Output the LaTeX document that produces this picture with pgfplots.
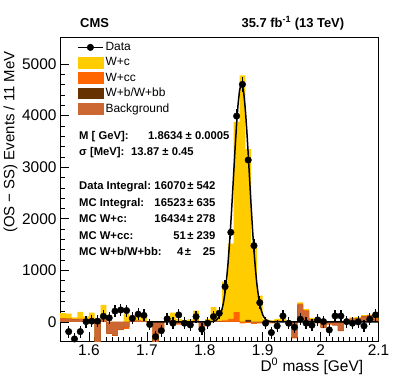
\documentclass[border=0pt]{standalone}
\usepackage{fontspec}
\setmainfont{Liberation Sans}
\usepackage{pgfplots}
\usepackage{pgfplotstable}
\pgfplotsset{compat=1.18}
\definecolor{wc}{RGB}{255,204,0}
\definecolor{wcc}{RGB}{255,102,0}
\definecolor{wb}{RGB}{102,51,0}
\definecolor{bkg}{RGB}{204,102,51}

\pgfplotstableread{
x s1 s2 s3 s4
1.55 60 60 75 170
1.56 60 60 70 160
1.57 50 50 60 90
1.58 55 55 65 195
1.59 45 45 55 110
1.60 50 50 60 180
1.61 -450 -450 -450 -420
1.62 60 60 70 330
1.63 -220 -220 -230 -160
1.64 -260 -260 -270 -200
1.65 -150 -150 -160 -100
1.66 -100 -100 -135 155
1.67 10 10 20 60
1.68 20 20 30 168
1.69 10 10 15 80
1.70 -20 -20 -30 20
1.71 -450 -450 -450 -420
1.72 -180 -180 -190 -150
1.73 0 0 10 90
1.74 30 30 40 180
1.75 -40 -40 -50 60
1.76 -50 -50 -60 40
1.77 -30 -30 -40 50
1.78 20 20 30 220
1.79 -150 -150 -160 -80
1.80 -20 -20 -30 60
1.81 10 10 20 285
1.82 10 10 20 230
1.83 0 0 30 780
1.84 0 0 60 1520
1.85 0 0 190 3880
1.86 0 0 -30 4780
1.87 0 40 -20 3350
1.88 -20 -20 -40 1460
1.89 -10 -10 -30 510
1.90 10 10 0 60
1.91 -20 -20 -30 30
1.92 20 20 25 60
1.93 10 10 20 80
1.94 -60 -60 -70 -40
1.95 -300 -300 -320 -290
1.96 330 330 355 380
1.97 215 215 225 250
1.98 40 40 50 80
1.99 -20 -20 -30 20
2.00 -110 -110 -120 -90
2.01 -40 -40 -50 -20
2.02 -60 -60 -70 -40
2.03 -170 -170 -180 -150
2.04 -20 -20 -30 10
2.05 60 60 70 90
2.06 70 70 75 100
2.07 110 110 115 130
2.08 120 120 125 140
2.09 60 60 70 90
2.10 0 0 0 0
}\hist

\pgfplotstableread{
x y e
1.565 -188 115
1.575 -330 115
1.585 -188 115
1.595 6 115
1.605 15 115
1.615 15 115
1.625 110 115
1.635 78 115
1.645 210 115
1.655 232 115
1.665 220 115
1.675 70 115
1.685 150 115
1.695 127 115
1.705 -50 115
1.715 -285 115
1.725 -170 115
1.735 60 115
1.745 -25 115
1.755 136 115
1.765 -25 115
1.775 -58 115
1.785 103 115
1.795 -142 115
1.805 -25 115
1.815 103 115
1.825 168 115
1.835 684 120
1.845 1738 130
1.855 3992 140
1.865 4607 145
1.875 3140 135
1.885 1479 125
1.895 374 120
1.905 -25 115
1.915 -207 115
1.925 -78 115
1.935 116 115
1.945 -25 115
1.955 -103 115
1.965 52 115
1.975 -25 115
1.985 -64 115
1.995 39 115
2.005 6 115
2.015 -155 115
2.025 116 115
2.035 116 115
2.045 6 115
2.055 -25 115
2.065 0 115
2.075 -78 115
2.085 52 115
2.095 136 115
}\data

\pgfplotstableread{
x y
1.700 0
1.800 0.1
1.810 3
1.815 10.5
1.820 35
1.825 100
1.8275 162
1.830 255
1.8325 386
1.835 568
1.8375 808
1.840 1114
1.8425 1485
1.845 1917
1.8475 2396
1.850 2898
1.8525 3394
1.855 3847
1.8575 4222
1.860 4485
1.8625 4613
1.8634 4622
1.865 4591
1.8675 4424
1.870 4127
1.8725 3727
1.875 3258
1.8775 2757
1.880 2258
1.8825 1791
1.885 1375
1.8875 1021
1.890 735
1.8925 512
1.895 345
1.8975 225
1.900 142
1.9025 87
1.905 51
1.9075 29.5
1.910 16
1.915 4.6
1.920 1
1.930 0
2.100 0
}\fit

\begin{document}
\begin{tikzpicture}
\begin{axis}[
  width=318.5bp, height=303.7bp, scale only axis,
  xmin=1.55, xmax=2.1, ymin=-370, ymax=5520,
  xtick={1.6,1.7,1.8,1.9,2,2.1},
  ytick={0,1000,2000,3000,4000,5000},
  minor x tick num=9, minor y tick num=4,
  tick align=inside, xtick pos=left, ytick pos=left,
  major tick length=9bp, minor tick length=4.5bp,
  tick style={black, line width=0.6bp},
  axis line style={line width=0.6bp},
  /pgf/number format/assume math mode=true,
  /pgf/number format/1000 sep={},
  scaled y ticks=false,
  ticklabel style={font=\fontsize{15.5}{15.5}\selectfont},
  legend style={draw=none, fill=none, at={(0.0534,0.99)}, anchor=north west,
    font=\fontsize{12}{14}\selectfont, inner sep=0pt, row sep=1.5pt,
    cells={anchor=west}},
  legend cell align=left,
]
\addlegendimage{legend image code/.code={\draw[black,line width=1.5pt] (0pt,0pt)--(25pt,0pt); \fill[black] (12.5pt,0pt) circle (3.3pt);}}
\addlegendentry{Data}
\addlegendimage{legend image code/.code={\fill[wc] (0pt,-5.5pt) rectangle (25pt,5.5pt);}}
\addlegendentry{W+c}
\addlegendimage{legend image code/.code={\fill[wcc] (0pt,-5.5pt) rectangle (25pt,5.5pt);}}
\addlegendentry{W+cc}
\addlegendimage{legend image code/.code={\fill[wb] (0pt,-5.5pt) rectangle (25pt,5.5pt);}}
\addlegendentry{W+b/W+bb}
\addlegendimage{legend image code/.code={\fill[bkg] (0pt,-5.5pt) rectangle (25pt,5.5pt);}}
\addlegendentry{Background}

\addplot[ybar interval, fill=wc, draw=none, forget plot] table[x=x, y=s4] {\hist};
\addplot[ybar interval, fill=wcc, draw=none, forget plot] table[x=x, y=s3] {\hist};
\addplot[ybar interval, fill=wb, draw=none, forget plot] table[x=x, y=s2] {\hist};
\addplot[ybar interval, fill=bkg, draw=none, forget plot] table[x=x, y=s1] {\hist};

\addplot[black, line width=1.5pt, line join=round, forget plot] table[x=x, y=y] {\fit};

\addplot[only marks, black, mark=*, mark size=3.3pt, forget plot,
  error bars/.cd, y dir=both, y explicit, error mark=none,
  error bar style={line width=1.3pt, black}]
  table[x=x, y=y, y error=e] {\data};
\end{axis}

\path (-60bp,-38bp) rectangle (339bp,341bp);

\node[anchor=base west, font=\fontsize{13}{13}\selectfont\bfseries] at (16.7bp,313.7bp) {CMS};
\node[anchor=base east, font=\fontsize{13}{13}\selectfont\bfseries] at (287.7bp,313.7bp) {35.7 fb\textsuperscript{-1} (13 TeV)};

\node[anchor=base east, rotate=90, font=\fontsize{15}{15}\selectfont] at (-45.5bp,293bp) {(OS − SS) Events / 11 MeV};
\node[anchor=base east, font=\fontsize{15.5}{15.5}\selectfont] at (306.7bp,-30bp) {D\textsuperscript{0} mass [GeV]};

\begin{scope}[every node/.style={font=\fontsize{11.3}{11.3}\selectfont\bfseries, inner sep=0pt}]
\node[anchor=base west] at (19bp,201.5bp) {M [ GeV]:};
\node[anchor=base west] at (88bp,201.5bp) {1.8634 ± 0.0005};
\node[anchor=base west] at (19bp,185bp) {σ [MeV]:};
\node[anchor=base west] at (71bp,185bp) {13.87 ± 0.45};
\node[anchor=base west] at (19bp,151bp) {Data Integral:};
\node[anchor=base west] at (19bp,134.5bp) {MC Integral:};
\node[anchor=base west] at (19bp,118bp) {MC W+c:};
\node[anchor=base west] at (19bp,101.5bp) {MC W+cc:};
\node[anchor=base west] at (19bp,85bp) {MC W+b/W+bb:};
\node[anchor=base east] at (126bp,151bp) {16070};
\node[anchor=base east] at (126bp,134.5bp) {16523};
\node[anchor=base east] at (126bp,118bp) {16434};
\node[anchor=base east] at (126bp,101.5bp) {51};
\node[anchor=base east] at (123.5bp,85bp) {4};
\node[anchor=base] at (130.5bp,151bp) {±};
\node[anchor=base] at (130.5bp,134.5bp) {±};
\node[anchor=base] at (130.5bp,118bp) {±};
\node[anchor=base] at (130.5bp,101.5bp) {±};
\node[anchor=base] at (128bp,85bp) {±};
\node[anchor=base east] at (155.5bp,151bp) {542};
\node[anchor=base east] at (155.5bp,134.5bp) {635};
\node[anchor=base east] at (155.5bp,118bp) {278};
\node[anchor=base east] at (155.5bp,101.5bp) {239};
\node[anchor=base east] at (155.5bp,85bp) {25};
\end{scope}
\end{tikzpicture}
\end{document}
